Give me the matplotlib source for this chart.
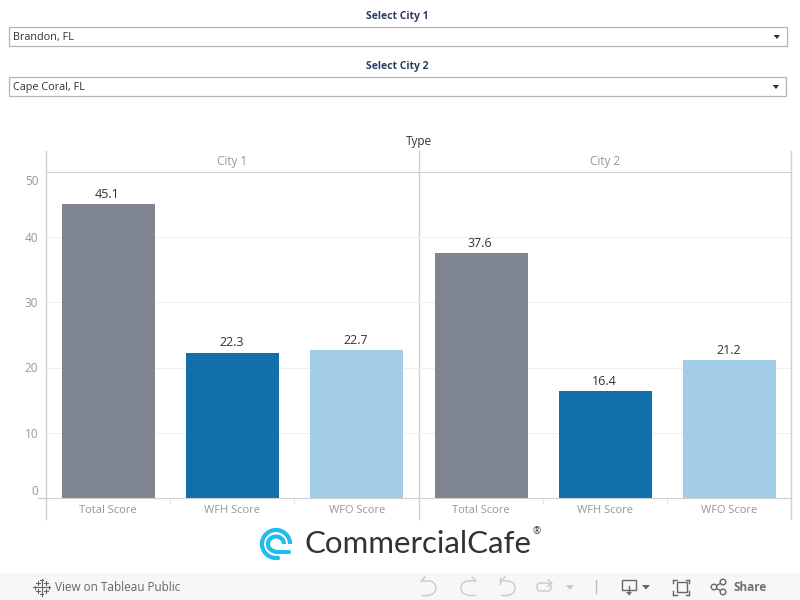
import matplotlib
matplotlib.use("Agg")
import matplotlib.pyplot as plt
from matplotlib.patches import Arc, Circle, FancyBboxPatch, Polygon, Rectangle

score_types = ["Total Score", "WFH Score", "WFO Score"]
city_headers = ["City 1", "City 2"]
city1_scores = [45.1, 22.3, 22.7]
city2_scores = [37.6, 16.4, 21.2]
bar_colors = ["#7e8590", "#1170aa", "#a3cce9"]
y_ticks = [0, 10, 20, 30, 40, 50]
filter_titles = ["Select City 1", "Select City 2"]
filter_values = ["Brandon, FL", "Cape Coral, FL"]

plt.rcParams["font.family"] = ["Open Sans", "DejaVu Sans"]
W, H = 800, 600
LINE = "#cfcfcf"
GREY = "#969696"

fig = plt.figure(figsize=(8, 6), dpi=100, facecolor="white")


def box(x0, y0, x1, y1):
    # pixels from the top left -> figure fractions
    return [x0 / W, 1 - y1 / H, (x1 - x0) / W, (y1 - y0) / H]


# overlay in pixel coordinates for the dashboard furniture
bg = fig.add_axes([0, 0, 1, 1], zorder=0)
bg.set_xlim(0, W)
bg.set_ylim(H, 0)
bg.axis("off")

ax1 = fig.add_axes(box(46, 172, 419, 498), zorder=1)
ax2 = fig.add_axes(box(419, 172, 791, 498), zorder=1)

for ax, scores in zip([ax1, ax2], [city1_scores, city2_scores]):
    ax.patch.set_alpha(0)
    bars = ax.bar(range(3), scores, width=0.75, color=bar_colors, zorder=2)
    for i, v in enumerate(scores):
        ax.annotate(f"{v:.1f}", (i, v), xytext=(-0.5, 7), textcoords="offset points",
                    ha="center", va="center", fontsize=9, color="#333333")
    ax.set_xlim(-0.5, 2.5)
    ax.set_ylim(0, 50)
    ax.set_yticks(y_ticks)
    ax.grid(axis="y", color="#f0f0f0", linewidth=0.8, zorder=0)
    ax.set_xticks([])
    ax.tick_params(left=False, labelleft=False)
    for s in ax.spines.values():
        s.set_visible(False)
    ax.spines["bottom"].set_visible(True)
    ax.spines["bottom"].set_color(LINE)
    ax.spines["top"].set_visible(True)
    ax.spines["top"].set_color(LINE)
    for i, name in enumerate(score_types):
        ax.annotate(name, (i, 0), xytext=(0, -9), textcoords="offset points",
                    ha="center", va="center", fontsize=8, color=GREY,
                    annotation_clip=False)

# y axis labels, first and last pulled inside the axis as Tableau does
for v in y_ticks:
    offset = {0: 5.5, 50: -5.5}.get(v, 0)
    ax1.annotate(str(v), (0, v), xycoords=("axes fraction", "data"),
                 xytext=(-5.5, offset - 1), textcoords="offset points",
                 ha="right", va="center", fontsize=8.5, color=GREY,
                 annotation_clip=False)

# panel frame
for x in [46, 419, 791]:
    bg.plot([x, x], [151, 519], color=LINE, lw=1)
bg.plot([38, 46], [498, 498], color=LINE, lw=1)
for x in [170, 294, 543, 667]:
    bg.plot([x, x], [498, 503], color="#e6e6e6", lw=0.8)

bg.text(418.5, 142, "Type", ha="center", va="center", fontsize=8.5, color="#333333")
for x, name in zip([232, 605], city_headers):
    bg.text(x, 162, name, ha="center", va="center", fontsize=8.5, color=GREY)

# filters
for title, value, ytitle, ytop, right in zip(filter_titles, filter_values,
                                             [16, 66], [27, 77], [786.5, 785.5]):
    bg.text(397.5, ytitle, title, ha="center", va="center", fontsize=7.5,
            fontweight="bold", color="#2c3e63")
    bg.add_patch(Rectangle((9, ytop), right - 9, 19, fc="white", ec="#b4b4b4", lw=0.9))
    bg.text(13, ytop + 10.5, value, ha="left", va="center", fontsize=7.8, color="#333333")
    ax_ = right - 9.5
    bg.add_patch(Polygon([(ax_ - 3.5, ytop + 8), (ax_ + 3, ytop + 8), (ax_, ytop + 12)],
                         fc="#333333", ec="none"))

# logo
logo = "#1cbcee"
bg.add_patch(Arc((276, 544), 28, 28, theta1=75, theta2=360, color=logo, lw=3))
bg.add_patch(Arc((276, 544), 16, 15, theta1=90, theta2=360, color=logo, lw=3))
bg.plot([276, 289], [551.5, 551.5], color=logo, lw=3, solid_capstyle="round")
bg.text(304, 544, "CommercialCafe", ha="left", va="center", fontsize=22.5,
        family="Lato", color="#333333")
bg.text(537, 532, "®", ha="center", va="center", fontsize=7, color="#333333")

# toolbar
bg.add_patch(Rectangle((0, 573), W, 27, fc="#f7f7f7", ec="none"))
bar_grey = "#666666"
bg.text(55, 587.5, "View on Tableau Public", ha="left", va="center", fontsize=8.5,
        fontweight="medium", color=bar_grey)
bg.text(733, 587.5, "Share", ha="left", va="center", fontsize=8.5,
        fontweight="bold", color="#707070")
for dx, dy, r in [(0, 0, 5), (0, -7, 1.5), (0, 7, 1.5), (-7, 0, 1.5), (7, 0, 1.5),
                  (-4, -4, 2), (4, -4, 2), (-4, 4, 2), (4, 4, 2)]:
    bg.plot([41.5 + dx - r, 41.5 + dx + r], [587 + dy, 587 + dy], color=bar_grey, lw=0.8)
    bg.plot([41.5 + dx, 41.5 + dx], [587 + dy - r, 587 + dy + r], color=bar_grey, lw=0.8)

# undo / redo / revert / refresh icons
icon = "#c9c9c9"
bg.add_patch(Arc((429, 588), 14, 14, theta1=-90, theta2=90, color=icon, lw=1))
bg.plot([425, 421, 429], [577, 581, 581], color=icon, lw=1)
bg.plot([429, 422], [595, 595], color=icon, lw=1)
bg.add_patch(Arc((468, 588), 14, 14, theta1=90, theta2=270, color=icon, lw=1))
bg.plot([468, 476, 472], [581, 581, 577], color=icon, lw=1)
bg.plot([468, 475], [595, 595], color=icon, lw=1)
bg.add_patch(Arc((508, 588), 14, 14, theta1=-90, theta2=90, color=icon, lw=1))
bg.plot([505, 501, 508], [577, 581, 581], color=icon, lw=1)
bg.plot([508, 501], [595, 595], color=icon, lw=1)
bg.plot([500, 500], [578, 584], color=icon, lw=1)
bg.add_patch(FancyBboxPatch((537, 583), 14, 8, boxstyle="round,pad=0,rounding_size=3.5",
                            fc="none", ec=icon, lw=1))
bg.plot([548, 552, 548], [580, 583, 586], color=icon, lw=1)
bg.add_patch(Polygon([(566, 585), (574, 585), (570, 590)], fc=icon, ec="none"))
bg.plot([595.5, 595.5], [580, 593], color="#bbbbbb", lw=1)

# download
bg.add_patch(Rectangle((622, 579.5), 14, 10, fc="none", ec=bar_grey, lw=1))
bg.plot([629, 629], [586, 594], color=bar_grey, lw=1)
bg.add_patch(Polygon([(626, 592), (632, 592), (629, 595)], fc=bar_grey, ec="none"))
bg.add_patch(Polygon([(642, 585), (650, 585), (646, 589.5)], fc=bar_grey, ec="none"))

# fullscreen
bg.add_patch(Rectangle((676.5, 582), 10, 10, fc="none", ec=bar_grey, lw=1))
for x0, x1 in [(673, 677), (686, 689)]:
    bg.plot([x0, x1], [579.5, 579.5], color=bar_grey, lw=1)
    bg.plot([x0, x1], [594.5, 594.5], color=bar_grey, lw=1)
for x in [673, 689]:
    bg.plot([x, x], [579.5, 583], color=bar_grey, lw=1)
    bg.plot([x, x], [591, 594.5], color=bar_grey, lw=1)

# share
bg.plot([723, 714, 723], [582, 587, 592], color=bar_grey, lw=1)
for x, y in [(714, 587), (723, 582), (723, 592)]:
    bg.add_patch(Circle((x, y), 2.8, fc="#f7f7f7", ec=bar_grey, lw=1, zorder=3))

fig.savefig("out.png", dpi=100)
